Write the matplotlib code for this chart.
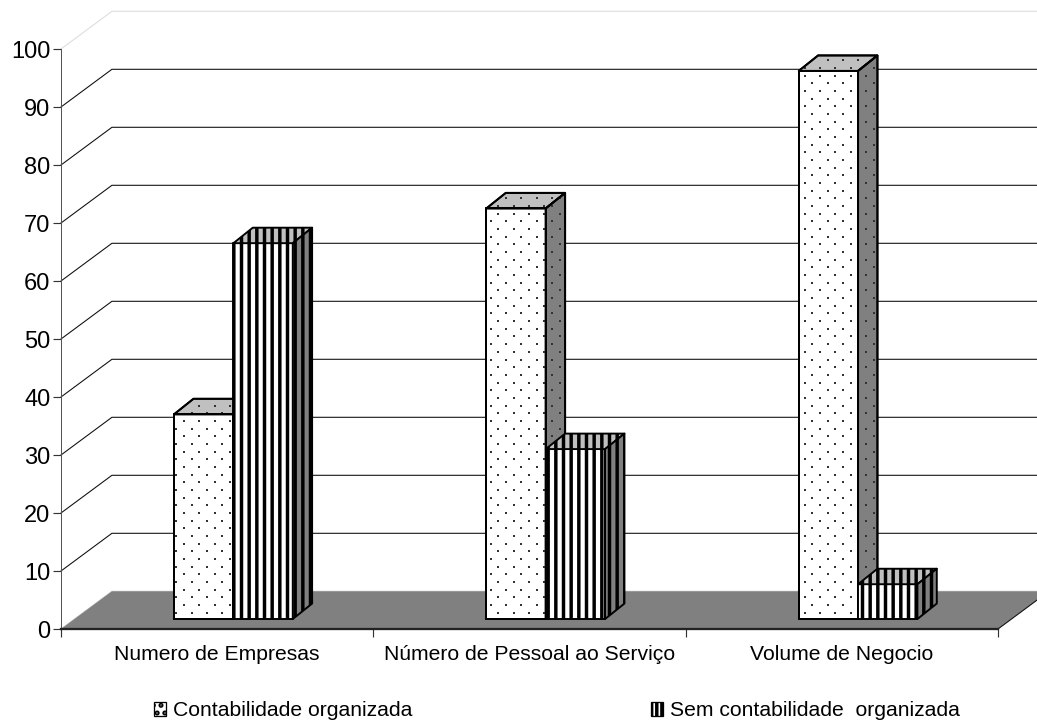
import matplotlib
matplotlib.use("Agg")
import matplotlib.pyplot as plt
import numpy as np
from matplotlib.patches import Patch, Polygon
from matplotlib.transforms import IdentityTransform

plt.rcParams['font.family'] = ['Liberation Sans', 'DejaVu Sans']

categories = ["Numero de Empresas", "Número de Pessoal ao Serviço", "Volume de Negocio"]
series_names = ["Contabilidade organizada", "Sem contabilidade  organizada"]
com_conta = [35.3, 70.8, 94.5]
sem_conta = [64.8, 29.3, 6]
yticks = [0, 10, 20, 30, 40, 50, 60, 70, 80, 90, 100]

DPI = 92
# oblique projection, in data units
WALL_DX, WALL_DY = 0.163, 6.5   # depth of floor
BAR_DX, BAR_DY = 0.052, 1.72    # where the bar front sits
TOP_DX, TOP_DY = 0.062, 2.67    # depth of a bar
BAR_W = 0.19

fig = plt.figure(figsize=(1037 / DPI, 720 / DPI), dpi=DPI)
ax = fig.add_axes([61 / 1037, 91 / 720, 937 / 1037, 580 / 720])
ax.set_xlim(0, 3)
ax.set_ylim(0, 100)
for s in ["top", "right"]:
    ax.spines[s].set_visible(False)
ax.spines["left"].set_color("#555555")
ax.spines["bottom"].set_color("#222222")
ax.spines["bottom"].set_linewidth(1.8)

# back wall lines
for v in yticks[1:]:
    c = "#dddddd" if v == 100 else "#111111"
    ax.plot([0, WALL_DX, 3 + WALL_DX], [v, v + WALL_DY, v + WALL_DY], color=c, lw=0.85,
            clip_on=False, zorder=1)

# floor
ax.add_patch(Polygon([(0, 0), (3, 0), (3 + WALL_DX, WALL_DY), (WALL_DX, WALL_DY)],
                     facecolor="#808080", edgecolor="none", clip_on=False, zorder=1.5))
ax.plot([0, WALL_DX, 3 + WALL_DX], [0, WALL_DY, WALL_DY], color="#cccccc", lw=0.85,
        clip_on=False, zorder=1.4)
ax.plot([3, 3 + WALL_DX], [0, WALL_DY], color="#111111", lw=0.85, clip_on=False, zorder=1.6)


def stipple(patch, z):
    # dot texture, clipped to the face
    fig.canvas.draw()
    pts = ax.transData.transform(patch.get_xy())
    x0, y0 = pts.min(axis=0)
    x1, y1 = pts.max(axis=0)
    xs, ys = [], []
    for i, y in enumerate(np.arange(np.floor(y0 / 7.67) * 7.67, y1 + 8, 7.67)):
        shift = 7.67 * (i % 2)
        row = np.arange(np.floor(x0 / 15.33) * 15.33 + shift, x1 + 16, 15.33)
        xs += list(row)
        ys += [y] * len(row)
    ln, = ax.plot(xs, ys, ls="none", marker="s", ms=1.7, mew=0, color="#333333",
                  transform=IdentityTransform(), zorder=z)
    ln.set_clip_path(patch)


def bar(left, value, dotted, z):
    x0 = left + BAR_DX
    x1 = x0 + BAR_W
    y0 = BAR_DY
    y1 = BAR_DY + value
    hatch = None if dotted else "||"
    faces = [
        ([(x0, y0), (x1, y0), (x1, y1), (x0, y1)], "white"),
        ([(x0, y1), (x1, y1), (x1 + TOP_DX, y1 + TOP_DY), (x0 + TOP_DX, y1 + TOP_DY)], "#c0c0c0"),
        ([(x1, y0), (x1 + TOP_DX, y0 + TOP_DY), (x1 + TOP_DX, y1 + TOP_DY), (x1, y1)], "#808080"),
    ]
    for xy, col in faces:
        p = Polygon(xy, facecolor=col, edgecolor="black", lw=1.5, hatch=hatch,
                    clip_on=False, zorder=z, joinstyle="round")
        ax.add_patch(p)
        if dotted:
            stipple(p, z + 0.01)
            # edge back on top of the dots
            ax.add_patch(Polygon(xy, fill=False, edgecolor="black", lw=1.5, clip_on=False,
                                 zorder=z + 0.02))


plt.rcParams['hatch.linewidth'] = 2.7
for i in range(len(categories)):
    left = i + 0.5 - BAR_W
    bar(left, com_conta[i], True, 2 + i)
    bar(left + BAR_W, sem_conta[i], False, 2.5 + i)

# axis ticks and labels
ax.set_yticks(yticks)
ax.tick_params(axis="y", length=6.3, width=0.9, color="#333333", labelsize=18.5, pad=2)
ax.set_xticks([0, 1, 2, 3])
ax.set_xticklabels([])
ax.tick_params(axis="x", length=6.3, width=0.9, color="#333333")
ax.set_xticks([0.5, 1.5, 2.5], minor=True)
ax.set_xticklabels(categories, minor=True)
ax.tick_params(axis="x", which="minor", length=0, labelsize=16.5, pad=12.5)

handles = [Patch(facecolor="white", edgecolor="black", hatch="..", lw=1),
           Patch(facecolor="white", edgecolor="black", hatch="|||", lw=1)]
fig.legend(handles, series_names, ncol=2, loc="lower left", bbox_to_anchor=(0.1385, -0.015),
           frameon=False, fontsize=16.5, handlelength=0.57, handleheight=0.6,
           handletextpad=0.33, columnspacing=11.3, borderpad=0.0)

fig.savefig("out.png", dpi=DPI)
